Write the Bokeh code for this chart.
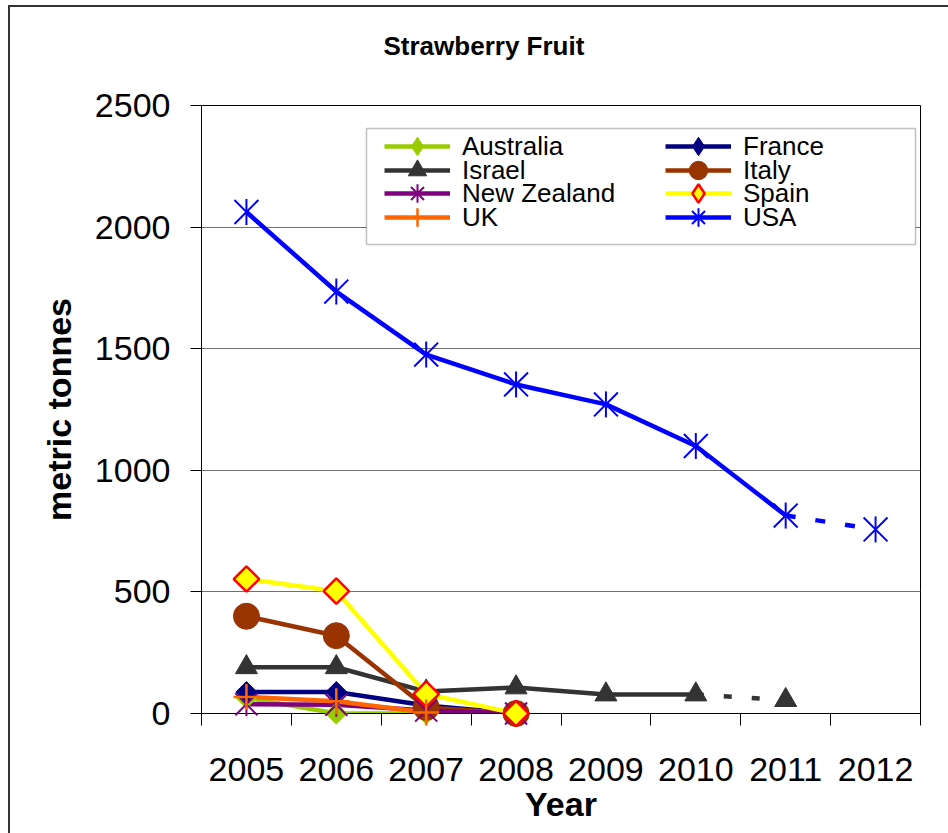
import math
from bokeh.plotting import figure
from bokeh.models import Range1d, FixedTicker, Legend, LegendItem, BoxAnnotation, Title
from bokeh.embed import file_html
from bokeh.resources import INLINE

# ---- data (metric tonnes) ----
years = [2005, 2006, 2007, 2008, 2009, 2010, 2011, 2012]
y_ticks = [0, 500, 1000, 1500, 2000, 2500]

australia = [65, 0, 0, 0]                       # 2005-2008
france = [88, 88, 33, 0]                        # 2005-2008
israel = [190, 190, 90, 107, 78, 78, 55]        # 2005-2011 (2011 estimate)
italy = [400, 320, 25, 0]                       # 2005-2008
new_zealand = [38, 36, 12, 0]                   # 2005-2008
spain = [553, 503, 80, 0]                       # 2005-2008
uk = [68, 50, 4]                                # 2005-2007
usa = [2062, 1735, 1476, 1353, 1271, 1100, 814, 757]  # 2005-2012 (2012 estimate)

israel_actual = 6   # points drawn solid, the rest dashed
usa_actual = 7

FONT = "Liberation Sans"
LW = 4.5

p = figure(frame_width=719, frame_height=608,
           min_border_left=201, min_border_right=28,
           min_border_top=105, min_border_bottom=120,
           x_range=Range1d(2004.5, 2012.5), y_range=Range1d(0, 2500),
           output_backend="svg", toolbar_location=None,
           background_fill_color="white", border_fill_color=None)
# outer chart frame (left and top edges only), drawn by the page behind the transparent border
p.styles = {"background-color": "white",
            "box-shadow": "inset 8px 5px 0 0 white, inset 10px 7px 0 0 #333333"}

p.title.text = "Strawberry Fruit"
p.title.align = "left"
p.title.offset = 182
p.title.standoff = 10
p.title.text_font = FONT
p.title.text_font_size = "26px"
p.title.text_font_style = "bold"
p.title.text_color = "black"
# invisible spacer between the title and the plot frame
p.above.insert(0, Title(text=" ", text_font_size="1px", standoff=37))

p.outline_line_color = "black"
p.outline_line_width = 1
p.xgrid.visible = False
p.ygrid.ticker = FixedTicker(ticks=y_ticks)
p.ygrid.grid_line_color = "#707070"
p.ygrid.grid_line_width = 1

xa = p.xaxis[0]
xa.ticker = FixedTicker(ticks=years, minor_ticks=[y - 0.5 for y in years] + [years[-1] + 0.5])
xa.major_label_overrides = {y: str(y) for y in years}
xa.major_tick_out = 0
xa.major_tick_in = 0
xa.minor_tick_out = 12
xa.minor_tick_in = 0
xa.minor_tick_line_color = "black"
xa.axis_line_color = "black"
xa.major_label_text_font = FONT
xa.major_label_text_font_size = "34px"
xa.major_label_text_color = "black"
xa.major_label_standoff = 32
xa.axis_label = "Year"
xa.axis_label_text_font = FONT
xa.axis_label_text_font_size = "34px"
xa.axis_label_text_font_style = "bold"
xa.axis_label_text_color = "black"
xa.axis_label_standoff = 1

ya = p.yaxis[0]
ya.ticker = FixedTicker(ticks=y_ticks)
ya.major_tick_out = 11
ya.major_tick_in = 0
ya.minor_tick_line_color = None
ya.axis_line_color = "black"
ya.major_tick_line_color = "black"
ya.major_label_text_font = FONT
ya.major_label_text_font_size = "34px"
ya.major_label_text_color = "black"
ya.major_label_standoff = 20
ya.axis_label = "metric tonnes"
ya.axis_label_text_font = FONT
ya.axis_label_text_font_size = "34px"
ya.axis_label_text_font_style = "bold"
ya.axis_label_text_color = "black"
ya.axis_label_standoff = 14

# legend box
p.add_layout(BoxAnnotation(left=366, right=915, top=128, bottom=244,
                           left_units="canvas", right_units="canvas",
                           top_units="canvas", bottom_units="canvas",
                           fill_color="white", fill_alpha=1,
                           line_color="#333333", line_width=1.5))

items = {}


def star(xs, ys, color, size):
    a = p.scatter(xs, ys, marker="x", size=size * 1.3, line_color=color, line_width=2,
                  level="overlay")
    b = p.scatter(xs, ys, marker="dash", angle=math.pi / 2, size=size, line_color=color,
                  line_width=2, level="overlay")
    return [a, b]


def legend_proxy(xs, ys, marker, **kw):
    # tiny marker (hidden under the series' own first marker); the legend draws it full size
    return p.scatter(xs[:1], ys[:1], marker=marker, size=1, **kw)


# Australia
n = len(australia)
ln = p.line(years[:n], australia, line_color="#99CC00", line_width=LW)
px = legend_proxy(years, australia, "diamond", fill_color="#99CC00", line_color="#99CC00")
p.scatter(years[:n], australia, marker="square", angle=math.pi / 4, size=15,
          fill_color="#99CC00", line_color="#99CC00", level="overlay")
items["Australia"] = [ln, px]
# France
n = len(france)
ln = p.line(years[:n], france, line_color="#000080", line_width=LW)
px = legend_proxy(years, france, "diamond", fill_color="#000080", line_color="#000080")
p.scatter(years[:n], france, marker="square", angle=math.pi / 4, size=15,
          fill_color="#000080", line_color="#000080", level="overlay")
items["France"] = [ln, px]
# Israel
ln = p.line(years[:israel_actual], israel[:israel_actual], line_color="#333333", line_width=LW)
p.line(years[israel_actual - 1:len(israel)], israel[israel_actual - 1:],
       line_color="#333333", line_width=LW, line_dash="8 20")
mk = p.scatter(years[:len(israel)], israel, marker="triangle", size=22,
               fill_color="#333333", line_color="#333333", level="overlay")
items["Israel"] = [ln, mk]
# Italy
n = len(italy)
ln = p.line(years[:n], italy, line_color="#993300", line_width=LW)
mk = p.scatter(years[:n], italy, marker="circle", size=26,
               fill_color="#993300", line_color="#993300", level="overlay")
items["Italy"] = [ln, mk]
# New Zealand
n = len(new_zealand)
ln = p.line(years[:n], new_zealand, line_color="#800080", line_width=LW)
px = legend_proxy(years, new_zealand, "asterisk", line_color="#800080", line_width=2)
star(years[:n], new_zealand, "#800080", 24)
items["New Zealand"] = [ln, px]
# Spain
n = len(spain)
ln = p.line(years[:n], spain, line_color="#FFFF00", line_width=LW)
px = legend_proxy(years, spain, "diamond", fill_color="#FFFF00", line_color="#FF0000",
                  line_width=2.5)
p.scatter(years[:n], spain, marker="square", angle=math.pi / 4, size=18,
          fill_color="#FFFF00", line_color="#FF0000", line_width=2.5, level="overlay")
items["Spain"] = [ln, px]
# UK
n = len(uk)
ln = p.line(years[:n], uk, line_color="#FF6600", line_width=LW)
mk = p.scatter(years[:n], uk, marker="cross", size=26, line_color="#FF6600",
               line_width=2.5, level="overlay")
items["UK"] = [ln, mk]
# USA
ln = p.line(years[:usa_actual], usa[:usa_actual], line_color="#0000FF", line_width=LW)
p.line(years[usa_actual - 1:], usa[usa_actual - 1:], line_color="#0000FF",
       line_width=LW, line_dash="10 20")
px = legend_proxy(years, usa, "asterisk", line_color="#0000FF", line_width=2)
star(years, usa, "#0000FF", 26)
items["USA"] = [ln, px]

legend_rows = [["Australia", "France"], ["Israel", "Italy"],
               ["New Zealand", "Spain"], ["UK", "USA"]]
GH = 46
for i, row in enumerate(legend_rows):
    center = 146 + i * 23.7          # canvas y of the row
    loc_y = int(round(713 - center - GH / 2))
    for j, nm in enumerate(row):
        lg = Legend(items=[LegendItem(label=nm, renderers=items[nm])],
                    location=(183 + j * 281, loc_y), orientation="vertical",
                    glyph_width=66, glyph_height=GH, label_height=24, spacing=0,
                    padding=0, margin=0, label_standoff=12,
                    label_text_font=FONT, label_text_font_size="26px",
                    label_text_color="black",
                    border_line_color=None, background_fill_alpha=0)
        p.add_layout(lg, "center")

open("out.html", "w").write(file_html(p, INLINE))
